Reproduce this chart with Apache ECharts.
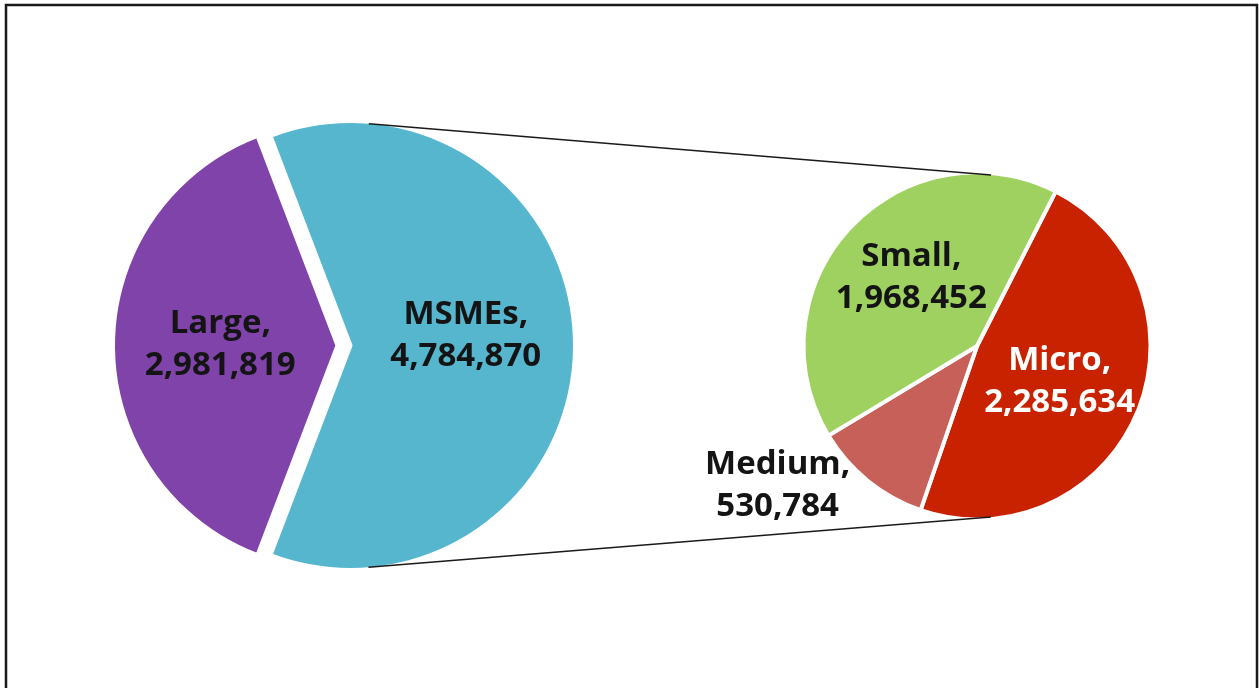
<!DOCTYPE html>
<html>
<head>
<meta charset="utf-8">
<script src="https://cdn.jsdelivr.net/npm/echarts@6/dist/echarts.min.js"></script>
<style>
  html, body { margin: 0; padding: 0; background: #fff; }
  #chart { width: 1259px; height: 688px; }
</style>
</head>
<body>
<div id="chart"></div>
<script>
// main pie: Large vs all MSMEs
const mainNames = ['MSMEs', 'Large']
const mainValues = [4784870, 2981819]
const mainColors = ['#55b6ce', '#8043aa']

// breakdown of MSMEs
const subNames = ['Micro', 'Medium', 'Small']
const subValues = [2285634, 530784, 1968452]
const subColors = ['#c82200', '#c8605a', '#9fd160']

const fmt = (v) => v.toLocaleString('en-US')

const font = '"Open Sans", "Noto Sans", sans-serif'
const stroke = 4

// layout of the two pies
const left = { cx: 337.5, cy: 345.5, r: 224.5, offset: 13 }
const right = { cx: 977, cy: 346, r: 173.5 }

const mainTotal = mainValues.reduce((a, b) => a + b, 0)
const mainStart = (mainValues[0] / mainTotal) * 180

// external tangent lines between the exploded slice and the second pie
function tangents(c1, r1, c2, r2) {
  const dx = c2.x - c1.x
  const dy = c2.y - c1.y
  const d = Math.hypot(dx, dy)
  const ux = dx / d
  const uy = dy / d
  const k = (r1 - r2) / d
  const h = Math.sqrt(1 - k * k)
  return [-1, 1].map((s) => {
    const nx = k * ux - s * h * uy
    const ny = k * uy + s * h * ux
    return [
      [c1.x + r1 * nx, c1.y + r1 * ny],
      [c2.x + r2 * nx, c2.y + r2 * ny]
    ]
  })
}

const lines = tangents(
  { x: left.cx + left.offset, y: left.cy }, left.r - stroke / 2,
  { x: right.cx, y: right.cy }, right.r - stroke / 2
)

const labelBase = {
  show: true,
  position: 'inside',
  fontFamily: font,
  fontWeight: 'bold',
  fontSize: 33,
  lineHeight: 42,
  color: '#141414',
  formatter: (p) => `${p.name},\n${fmt(p.value)}`
}

// small nudges so labels sit where the reference puts them
const mainNudge = { MSMEs: [0, -10], Large: [-2, -1] }
const subNudge = { Micro: [0, 1], Medium: [-143, 70], Small: [0, -7] }

const chart = echarts.init(document.getElementById('chart'), null, { renderer: 'canvas' })

chart.setOption({
  animation: false,
  backgroundColor: '#fff',
  series: [
    {
      type: 'pie',
      silent: true,
      center: [left.cx, left.cy],
      radius: left.r,
      startAngle: mainStart,
      clockwise: true,
      selectedMode: 'single',
      selectedOffset: left.offset,
      avoidLabelOverlap: false,
      label: labelBase,
      labelLine: { show: false },
      labelLayout: (p) => {
        const n = mainNudge[mainNames[p.dataIndex]]
        return { dx: n[0], dy: n[1] }
      },
      itemStyle: { borderColor: '#fff', borderWidth: stroke },
      emphasis: { disabled: true },
      data: mainNames.map((name, i) => ({
        name,
        value: mainValues[i],
        selected: name === 'MSMEs',
        itemStyle: { color: mainColors[i] }
      }))
    },
    {
      type: 'pie',
      silent: true,
      center: [right.cx, right.cy],
      radius: right.r,
      startAngle: 63,
      clockwise: true,
      avoidLabelOverlap: false,
      label: labelBase,
      labelLine: { show: false },
      labelLayout: (p) => {
        const n = subNudge[subNames[p.dataIndex]]
        return { dx: n[0], dy: n[1] }
      },
      itemStyle: { borderColor: '#fff', borderWidth: stroke },
      emphasis: { disabled: true },
      data: subNames.map((name, i) => ({
        name,
        value: subValues[i],
        itemStyle: { color: subColors[i] },
        label: name === 'Micro' ? { color: '#fff' } : undefined
      }))
    }
  ],
  graphic: [
    {
      type: 'rect',
      silent: true,
      z: 100,
      shape: { x: 6, y: 5, width: 1251, height: 700 },
      style: { fill: 'none', stroke: '#1a1a1a', lineWidth: 2.5 }
    },
    ...lines.map((seg) => ({
      type: 'line',
      silent: true,
      z: 100,
      shape: { x1: seg[0][0], y1: seg[0][1], x2: seg[1][0], y2: seg[1][1] },
      style: { stroke: '#1a1a1a', lineWidth: 1.5 }
    }))
  ]
})
</script>
</body>
</html>
